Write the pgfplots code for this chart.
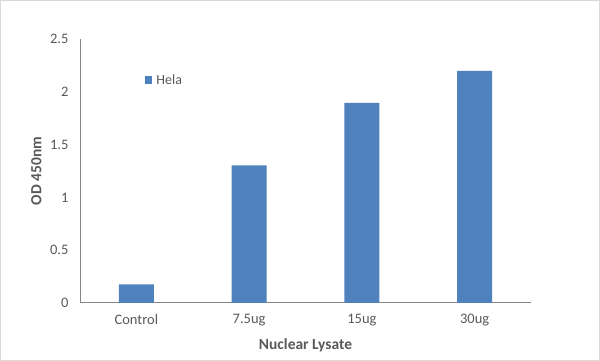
\documentclass[border=0pt]{standalone}
\usepackage{fontspec}
\setmainfont{Carlito}
\usepackage{pgfplots}
\pgfplotsset{compat=1.18}
\definecolor{barblue}{HTML}{4F81BD}
\definecolor{txtgray}{HTML}{595959}
\definecolor{axgray}{HTML}{868686}
\definecolor{framegray}{HTML}{D9D9D9}
\begin{document}
\begin{tikzpicture}[x=1pt,y=1pt]
\draw[framegray, line width=1pt] (0.5,0.5) rectangle (599.5,360.5);
\begin{axis}[
  at={(80pt,58pt)}, anchor=south west,
  scale only axis, width=451pt, height=264pt,
  xmin=-0.5, xmax=3.5, ymin=0, ymax=2.5,
  axis x line=bottom, axis y line=left,
  axis line style={-, axgray, line width=1pt},
  major tick length=0pt,
  xtick={0,1,2,3}, xticklabels={Control,7.5ug,15ug,30ug},
  ytick={0,0.5,1,1.5,2,2.5},
  yticklabels={0,0.5,1,1.5,2,2.5},
  /pgf/number format/assume math mode=true,
  tick label style={font=\fontsize{14.5}{17}\selectfont, text=txtgray},
  yticklabel style={xshift=-8pt},
  xticklabel style={yshift=-8pt},
  xlabel={Nuclear Lysate}, ylabel={OD 450nm},
  every axis x label/.style={at={(axis description cs:0.5,-0.162)}, anchor=center,
    font=\fontsize{15.5}{18}\selectfont\bfseries, text=txtgray},
  every axis y label/.style={at={(axis description cs:-0.097,0.5)}, anchor=center, rotate=90,
    font=\fontsize{15.5}{18}\selectfont\bfseries, text=txtgray},
  ybar, bar width=35pt,
  legend style={at={(axis description cs:0.143,0.845)}, anchor=west, draw=none, fill=none, inner sep=0pt,
    font=\fontsize{14}{16}\selectfont, text=txtgray,
    nodes={inner xsep=4.5pt}},
  legend image code/.code={\fill[barblue] (0pt,-3.65pt) rectangle (7.3pt,3.65pt);},
]
\addplot[fill=barblue, draw=none] coordinates {(0,0.177) (1,1.304) (2,1.894) (3,2.197)};
\addlegendentry{Hela}
\end{axis}
\end{tikzpicture}
\end{document}
